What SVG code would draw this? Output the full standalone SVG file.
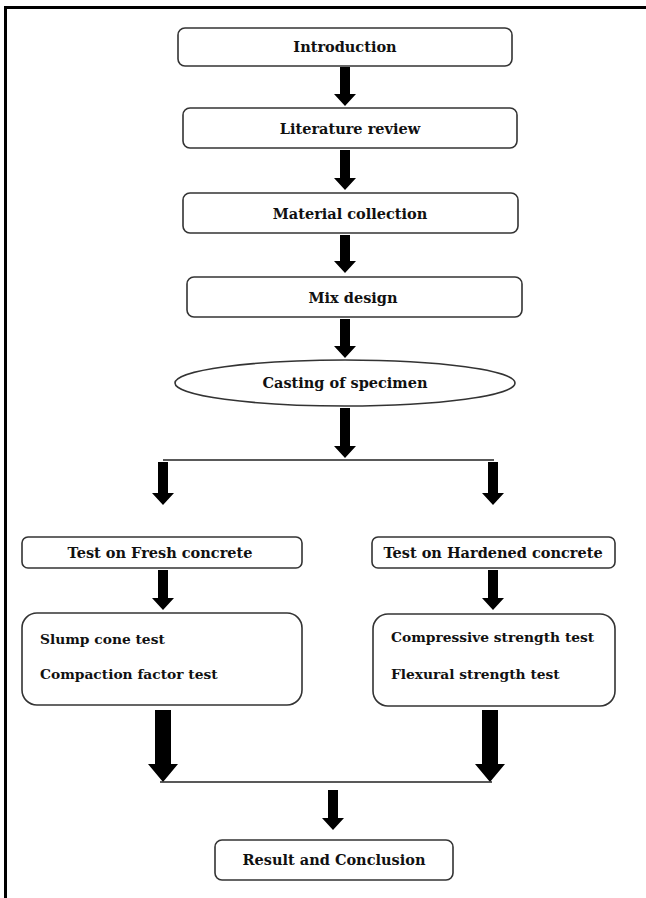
<svg xmlns="http://www.w3.org/2000/svg" width="646" height="898" viewBox="0 0 646 898">
<style>
.box{fill:#fff;stroke:#333;stroke-width:1.6}
.t{font-family:"DejaVu Serif","Liberation Serif",serif;font-weight:bold;font-size:14.5px;fill:#111}
.s{font-size:13.8px}
.c{text-anchor:middle}
.arr{fill:#000}
.ln{stroke:#222;stroke-width:1.6;fill:none}
</style>
<rect x="0" y="0" width="646" height="898" fill="#fff"/>
<line x1="5.5" y1="6" x2="5.5" y2="898" stroke="#000" stroke-width="3"/>
<line x1="4" y1="7.5" x2="646" y2="7.5" stroke="#000" stroke-width="3"/>
<g id="connectors">
<polygon class="arr" points="340,67 350,67 350,94 356,94 345,106 334,94 340,94"/>
<polygon class="arr" points="340,150 350,150 350,178 356,178 345,190 334,178 340,178"/>
<polygon class="arr" points="340,235 350,235 350,261 356,261 345,273 334,261 340,261"/>
<polygon class="arr" points="340,319 350,319 350,346 356,346 345,358 334,346 340,346"/>
<polygon class="arr" points="340,408 350,408 350,446 356,446 345,458 334,446 340,446"/>
<line class="ln" x1="163" y1="460" x2="494" y2="460"/>
<polygon class="arr" points="158,462 168,462 168,493 174,493 163,505 152,493 158,493"/>
<polygon class="arr" points="488,462 498,462 498,493 504,493 493,505 482,493 488,493"/>
<polygon class="arr" points="158,570 168,570 168,598 174,598 163,610 152,598 158,598"/>
<polygon class="arr" points="488,570 498,570 498,598 504,598 493,610 482,598 488,598"/>
<polygon class="arr" points="155,710 171,710 171,764 178,764 163,782 148,764 155,764"/>
<polygon class="arr" points="482,710 498,710 498,764 505,764 490,782 475,764 482,764"/>
<line class="ln" x1="160" y1="782" x2="492" y2="782"/>
<polygon class="arr" points="328,790 338,790 338,818 344,818 333,830 322,818 328,818"/>
</g>
<g id="introduction"><rect class="box" x="178" y="28" width="334" height="38" rx="7"/><text class="t c" x="345" y="52">Introduction</text></g>
<g id="literature"><rect class="box" x="183" y="108" width="334" height="40" rx="7"/><text class="t c" x="350" y="134">Literature review</text></g>
<g id="material"><rect class="box" x="183" y="193" width="335" height="40" rx="7"/><text class="t c" x="350" y="219">Material collection</text></g>
<g id="mix"><rect class="box" x="187" y="277" width="335" height="40" rx="7"/><text class="t c" x="353" y="303">Mix design</text></g>
<g id="casting"><ellipse class="box" cx="345" cy="383" rx="170" ry="23"/><text class="t c" x="345" y="388">Casting of specimen</text></g>
<g id="fresh"><rect class="box" x="22" y="537" width="280" height="31" rx="6"/><text class="t c" x="160" y="558">Test on Fresh concrete</text></g>
<g id="hardened"><rect class="box" x="372" y="537" width="243" height="31" rx="6"/><text class="t c" x="493" y="558">Test on Hardened concrete</text></g>
<g id="fresh-tests"><rect class="box" x="22" y="613" width="280" height="92" rx="15"/><text class="t s" x="40" y="644">Slump cone test</text><text class="t s" x="40" y="679">Compaction factor test</text></g>
<g id="hardened-tests"><rect class="box" x="373" y="614" width="242" height="92" rx="15"/><text class="t s" x="391" y="642">Compressive strength test</text><text class="t s" x="391" y="679">Flexural strength test</text></g>
<g id="result"><rect class="box" x="215" y="840" width="238" height="40" rx="7"/><text class="t c" x="334" y="865">Result and Conclusion</text></g>
</svg>
